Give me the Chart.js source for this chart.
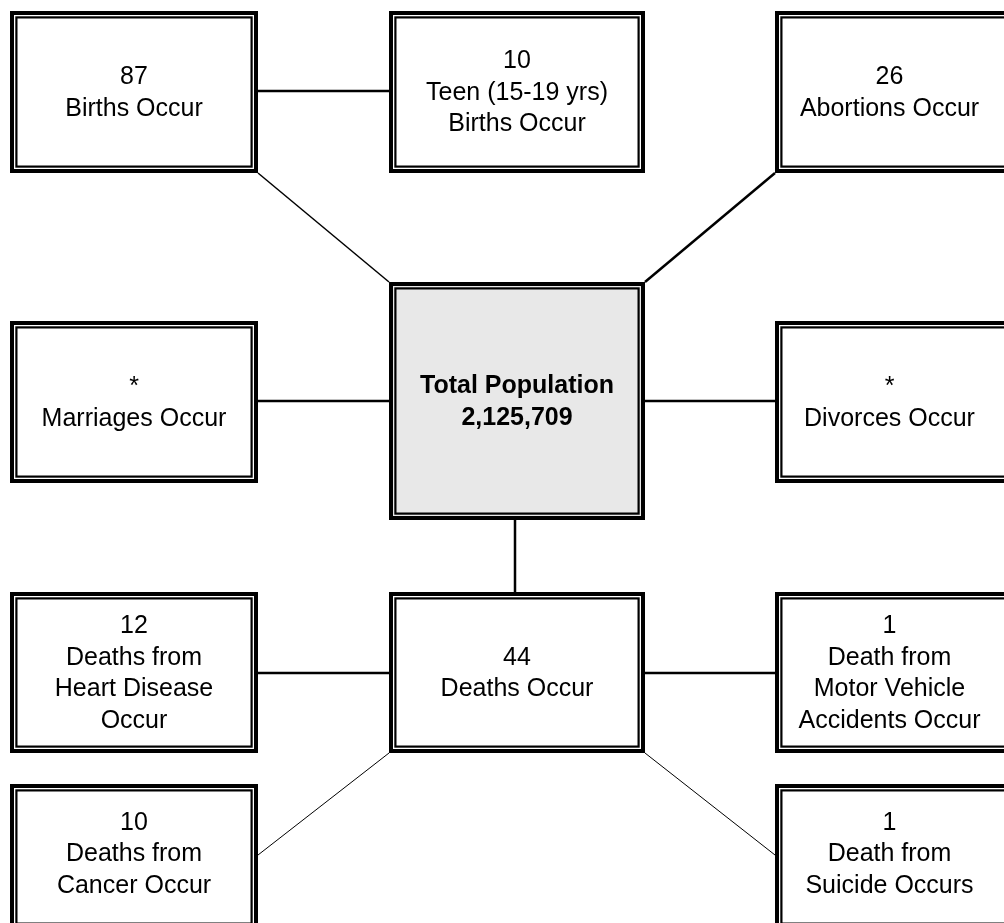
<!DOCTYPE html>
<html>
<head>
<meta charset="utf-8">
<script src="https://cdn.jsdelivr.net/npm/chart.js@4"></script>
<style>
  html, body { margin: 0; padding: 0; background: #fff; }
  #wrap { width: 1004px; height: 923px; }
  #warm { font-family: Arial, "Liberation Sans"; position: absolute; left: -9999px; }
</style>
</head>
<body>
<span id="warm">x <b>x</b></span>
<div id="wrap"><canvas id="chart" width="1004" height="923"></canvas></div>
<script>
// values shown in each box
const boxNames = ['births', 'teen', 'abortions', 'marriages', 'total', 'divorces',
                  'heart', 'deaths', 'motor', 'cancer', 'suicide'];
const boxCounts = ['87', '10', '26', '*', '2,125,709', '*', '12', '44', '1', '10', '1'];
const boxLabels = [
    ['Births Occur'],
    ['Teen (15-19 yrs)', 'Births Occur'],
    ['Abortions Occur'],
    ['Marriages Occur'],
    ['Total Population'],
    ['Divorces Occur'],
    ['Deaths from', 'Heart Disease', 'Occur'],
    ['Deaths Occur'],
    ['Death from', 'Motor Vehicle', 'Accidents Occur'],
    ['Deaths from', 'Cancer Occur'],
    ['Death from', 'Suicide Occurs']
];

// layout (in axis units, 1 unit = 1 px): left, top, right, bottom
const boxLayout = {
    births:    [10, 11, 258, 173],
    teen:      [389, 11, 645, 173],
    abortions: [775, 11, 1030, 173],
    marriages: [10, 321, 258, 483],
    total:     [389, 282, 645, 520],
    divorces:  [775, 321, 1030, 483],
    heart:     [10, 592, 258, 753],
    deaths:    [389, 592, 645, 753],
    motor:     [775, 592, 1030, 753],
    cancer:    [10, 784, 258, 930],
    suicide:   [775, 784, 1030, 930]
};

// connectors: [x1, y1, x2, y2, width]
const links = [
    [258, 91, 389, 91, 2.5],
    [258, 173, 389, 282, 1.5],
    [775, 173, 645, 282, 2.5],
    [258, 401, 389, 401, 2.5],
    [645, 401, 775, 401, 2.5],
    [515, 520, 515, 592, 2.5],
    [258, 673, 389, 673, 2.5],
    [645, 673, 775, 673, 2.5],
    [389, 753, 258, 855, 1],
    [645, 753, 775, 855, 1]
];

const boxPlugin = {
    id: 'boxes',
    afterDatasetsDraw(chart) {
        const ctx = chart.ctx;
        const xs = chart.scales.x, ys = chart.scales.y;
        ctx.save();
        boxNames.forEach((name, i) => {
            const b = boxLayout[name];
            const l = xs.getPixelForValue(b[0]);
            const t = ys.getPixelForValue(b[1]);
            const r = xs.getPixelForValue(b[2]);
            const bt = ys.getPixelForValue(b[3]);
            const w = r - l, h = bt - t;
            const isTotal = name === 'total';
            ctx.fillStyle = isTotal ? '#e8e8e8' : '#ffffff';
            ctx.fillRect(l, t, w, h);
            ctx.strokeStyle = '#000';
            ctx.lineWidth = 4;
            ctx.strokeRect(l + 2, t + 2, w - 4, h - 4);
            ctx.lineWidth = 2.2;
            ctx.strokeRect(l + 6.4, t + 6.4, w - 12.8, h - 12.8);

            // text, centred in the visible part of the box
            let lines;
            if (isTotal) lines = [boxLabels[i][0], boxCounts[i]];
            else lines = [boxCounts[i]].concat(boxLabels[i]);
            const cx = (Math.max(l, 0) + Math.min(r, chart.width)) / 2;
            const cy = (Math.max(t, 0) + Math.min(bt, chart.height)) / 2;
            ctx.fillStyle = '#000';
            ctx.textAlign = 'center';
            ctx.textBaseline = 'middle';
            ctx.font = (isTotal ? 'bold ' : '') + '25px Arial, "Liberation Sans", Helvetica, sans-serif';
            const lh = 31.5;
            lines.forEach((txt, k) => {
                ctx.fillText(txt, cx, cy + 1 + (k - (lines.length - 1) / 2) * lh);
            });
        });
        ctx.restore();
    }
};

const datasets = links.map(l => ({
    data: [{x: l[0], y: l[1]}, {x: l[2], y: l[3]}],
    borderColor: '#000',
    borderWidth: l[4],
    pointRadius: 0,
    showLine: true,
    fill: false
}));

new Chart(document.getElementById('chart').getContext('2d'), {
    type: 'scatter',
    data: { datasets: datasets },
    options: {
        responsive: false,
        animation: false,
        layout: { padding: 0 },
        plugins: { legend: { display: false }, tooltip: { enabled: false } },
        scales: {
            x: { type: 'linear', min: 0, max: 1004, display: false },
            y: { type: 'linear', min: 0, max: 923, reverse: true, display: false }
        }
    },
    plugins: [boxPlugin]
});
</script>
</body>
</html>
